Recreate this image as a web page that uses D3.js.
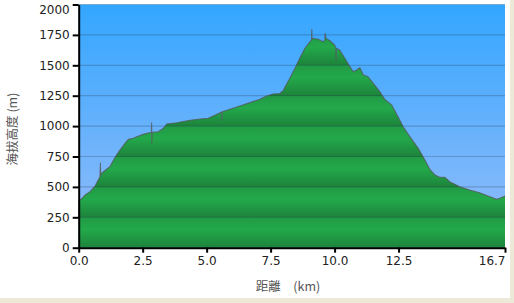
<!DOCTYPE html>
<html><head><meta charset="utf-8">
<script src="https://cdn.jsdelivr.net/npm/d3@7"></script>
<style>
html,body{margin:0;padding:0;background:#fff;}
svg{display:block;}
</style></head>
<body>
<script>
// distance (km)
const distKm = [0.0,0.01,0.09,0.25,0.44,0.64,0.83,0.85,0.86,0.9,1.09,1.22,1.42,1.61,1.81,1.94,2.13,2.27,2.52,2.84,2.85,2.86,2.87,3.11,3.31,3.44,3.83,4.35,4.74,5.06,5.26,5.59,5.6,5.61,5.91,6.3,6.69,7.08,7.34,7.6,7.86,7.99,8.06,8.25,8.45,8.64,8.84,9.04,9.1,9.11,9.12,9.16,9.36,9.55,9.62,9.63,9.66,9.82,10.0,10.05,10.06,10.07,10.2,10.4,10.6,10.73,10.86,10.99,11.12,11.31,11.51,11.77,11.96,12.23,12.48,12.68,12.94,13.27,13.53,13.72,13.92,14.11,14.31,14.5,14.89,15.28,15.67,16.07,16.33,16.46,16.66];
// elevation (m)
const elevM = [250,390,398,433,461,507,584,697,595,612,645,666,743,803,858,891,900,913,932,949,1028,861,950,954,982,1017,1028,1048,1058,1064,1083,1116,1050,1118,1138,1165,1193,1220,1248,1264,1268,1291,1319,1393,1475,1558,1640,1694,1710,1796,1712,1722,1714,1694,1705,1763,1722,1702,1667,1640,1544,1640,1626,1558,1489,1447,1461,1480,1420,1406,1352,1283,1220,1174,1077,995,913,817,721,645,598,579,579,543,502,475,452,419,398,406,425];
const yTicks = [0,250,500,750,1000,1250,1500,1750,2000];
const xTicks = [0,2.5,5.0,7.5,10.0,12.5,16.66];

const W=514,H=303;
const svg=d3.select("body").append("svg").attr("width",W).attr("height",H);
svg.append("rect").attr("x",510).attr("y",0).attr("width",4).attr("height",H).attr("fill","#ece9d8");
svg.append("rect").attr("x",0).attr("y",298).attr("width",W).attr("height",5).attr("fill","#ece9d8");

const x=d3.scaleLinear().domain([0,16.66]).range([78.7,505]);
const y=d3.scaleLinear().domain([0,2000]).range([247.7,4.5]);

const defs=svg.append("defs");
const sky=defs.append("linearGradient").attr("id","sky").attr("x1",0).attr("y1",0).attr("x2",0).attr("y2",1);
sky.append("stop").attr("offset",0).attr("stop-color","#33a6ff");
sky.append("stop").attr("offset",1).attr("stop-color","#98bdf9");
const band=defs.append("linearGradient").attr("id","band").attr("gradientUnits","userSpaceOnUse")
  .attr("x1",0).attr("x2",0).attr("y1",y(250)).attr("y2",y(0)).attr("spreadMethod","repeat");
band.append("stop").attr("offset",0).attr("stop-color","#219a45");
band.append("stop").attr("offset",0.4).attr("stop-color","#23a94b");
band.append("stop").attr("offset",1).attr("stop-color","#1d833b");

svg.append("rect").attr("x",x(0)).attr("y",y(2000)).attr("width",x(16.66)-x(0)).attr("height",y(0)-y(2000)).attr("fill","url(#sky)");

const data=distKm.map((d,i)=>[d,elevM[i]]);
svg.append("path").datum(data).attr("fill","url(#band)")
  .attr("d",d3.area().x(d=>x(d[0])).y0(y(0)).y1(d=>y(d[1])));

svg.append("g").selectAll("line").data(yTicks.slice(1)).join("line")
  .attr("x1",x(0)).attr("x2",x(16.66)).attr("y1",d=>y(d)).attr("y2",d=>y(d))
  .attr("stroke","rgba(30,50,70,0.25)").attr("stroke-width",1.2);

svg.append("path").datum(data).attr("fill","none").attr("stroke","#555").attr("stroke-opacity",0.75).attr("stroke-width",1.1)
  .attr("stroke-linejoin","round").attr("d",d3.line().x(d=>x(d[0])).y(d=>y(d[1])));

const yAxis=svg.append("g").attr("transform",`translate(${x(0)},0)`)
  .call(d3.axisLeft(y).tickValues(yTicks).tickSize(6).tickSizeOuter(0).tickFormat(d3.format("d")));
yAxis.select(".domain").attr("stroke","#000").attr("stroke-width",2);
yAxis.selectAll(".tick line").attr("stroke","#000").attr("stroke-width",2);
yAxis.selectAll("text").attr("font-family","DejaVu Sans, Verdana, sans-serif").attr("font-size",12).attr("fill","#222").attr("x",-9)
  .attr("dy",d=>d===2000?"0.75em":"0.32em");

const xAxis=svg.append("g").attr("transform",`translate(0,${y(0)})`)
  .call(d3.axisBottom(x).tickValues(xTicks).tickSize(5).tickSizeOuter(0).tickFormat(d=>d.toFixed(1)));
xAxis.select(".domain").attr("stroke","#000").attr("stroke-width",2);
xAxis.selectAll(".tick line").attr("stroke","#000").attr("stroke-width",2);
xAxis.selectAll("text").attr("font-family","DejaVu Sans, Verdana, sans-serif").attr("font-size",12).attr("fill","#222").attr("y",9);
xAxis.selectAll(".tick").filter(d=>d===16.66).select("text").attr("text-anchor","end").attr("x",0);

svg.append("text").attr("transform","translate(17,129) rotate(-90)").attr("text-anchor","middle")
  .attr("font-family","Noto Sans CJK JP, DejaVu Sans, sans-serif").attr("font-size",12.5).attr("fill","#555").text("海拔高度 (m)");
svg.append("text").attr("x",288).attr("y",291).attr("text-anchor","middle")
  .attr("font-family","Noto Sans CJK JP, DejaVu Sans, sans-serif").attr("font-size",12.5).attr("fill","#555").text("距離\u3000(km)");
</script>
</body></html>
